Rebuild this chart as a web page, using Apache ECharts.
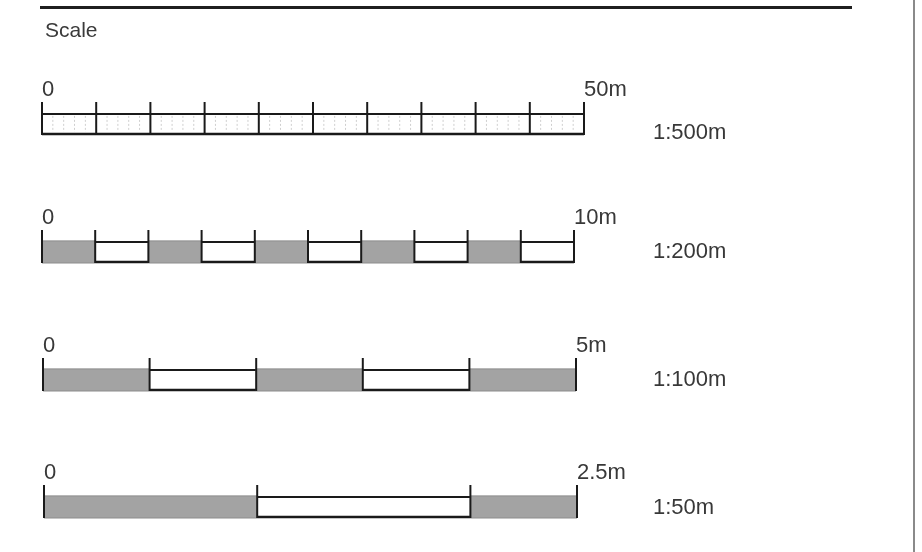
<!DOCTYPE html>
<html>
<head>
<meta charset="utf-8">
<script src="https://cdn.jsdelivr.net/npm/echarts@6/dist/echarts.min.js"></script>
<style>
html,body{margin:0;padding:0;background:#fff;}
#chart{width:922px;height:552px;}
</style>
</head>
<body>
<div id="chart"></div>
<script>
// ---- data ----
const titleText = 'Scale';
const scaleNames = ['1:500m', '1:200m', '1:100m', '1:50m'];
const scaleLengths = [50, 10, 5, 2.5];
const ticks500 = [0, 5, 10, 15, 20, 25, 30, 35, 40, 45, 50];
const ticks200 = [0, 1, 2, 3, 4, 5, 6, 7, 8, 9, 10];
const ticks100 = [0, 1, 2, 3, 4, 5];
const ticks50 = [0, 1, 2, 2.5];
const shade500 = [0, 0, 0, 0, 0, 0, 0, 0, 0, 0];
const shade200 = [1, 0, 1, 0, 1, 0, 1, 0, 1, 0];
const shade100 = [1, 0, 1, 0, 1];
const shade50 = [1, 0, 1];
const minorTicks500 = [1,2,3,4,6,7,8,9,11,12,13,14,16,17,18,19,21,22,23,24,26,27,28,29,31,32,33,34,36,37,38,39,41,42,43,44,46,47,48,49];

const allTicks = [ticks500, ticks200, ticks100, ticks50];
const allShades = [shade500, shade200, shade100, shade50];
const allMinor = [minorTicks500, [], [], []];

// ---- layout (positions/styles) ----
const rows = [
  {top: 102, left: 42, width: 542, labelLH: 28},
  {top: 230, left: 42, width: 532, labelLH: 10},
  {top: 358, left: 43, width: 533, labelLH: 10},
  {top: 485, left: 44, width: 533, labelLH: 12}
];
const rowHeight = 33;
const rightLabelX = 653;
const textColor = '#383838';
const fontFam = '"Liberation Sans", Arial, sans-serif';
const BAR_FRAC = 0.67;

function bandInfo(api, x, cat) {
  const p = api.coord([x, cat]);
  const band = api.size([0, 1])[1];
  const top = p[1] - band / 2;
  const bottom = p[1] + band / 2;
  const barTop = bottom - band * BAR_FRAC;
  return {x: p[0], top, bottom, barTop};
}

function renderSegment(params, api) {
  const a = bandInfo(api, api.value(0), api.value(3));
  const b = bandInfo(api, api.value(1), api.value(3));
  const shaded = api.value(2) === 1;
  const children = [];
  if (shaded) {
    children.push({type: 'rect', shape: {x: a.x, y: a.barTop, width: b.x - a.x, height: a.bottom - a.barTop},
      style: {fill: '#a3a3a3', stroke: '#8c8c8c', lineWidth: 1}});
  } else {
    children.push({type: 'rect', shape: {x: a.x, y: a.barTop, width: b.x - a.x, height: a.bottom - a.barTop},
      style: {fill: '#fff'}});
    children.push({type: 'line', shape: {x1: a.x, y1: a.barTop + 1, x2: b.x, y2: a.barTop + 1},
      style: {stroke: '#1a1a1a', lineWidth: 2}});
    children.push({type: 'line', shape: {x1: a.x, y1: a.bottom - 1, x2: b.x, y2: a.bottom - 1},
      style: {stroke: '#1a1a1a', lineWidth: 2.5}});
  }
  return {type: 'group', children};
}

function renderTick(params, api) {
  const a = bandInfo(api, api.value(0), api.value(1));
  return {type: 'line', shape: {x1: a.x, y1: a.top, x2: a.x, y2: a.bottom},
    style: {stroke: '#1a1a1a', lineWidth: 2}};
}

function renderMinor(params, api) {
  const a = bandInfo(api, api.value(0), api.value(1));
  return {type: 'line', shape: {x1: a.x, y1: a.barTop + 3, x2: a.x, y2: a.bottom - 3},
    style: {stroke: '#cfcfcf', lineWidth: 1, lineDash: [2, 2]}};
}

const grids = [], xAxes = [], yAxes = [], series = [];
rows.forEach((r, i) => {
  grids.push({left: r.left, width: r.width, top: r.top, height: rowHeight});
  xAxes.push({
    gridIndex: i, type: 'value', min: 0, max: scaleLengths[i], interval: scaleLengths[i],
    position: 'top',
    axisLine: {show: false}, axisTick: {show: false}, splitLine: {show: false},
    axisLabel: {
      show: true, margin: 1, align: 'left', fontSize: 22, color: textColor, fontFamily: fontFam,
      showMinLabel: true, showMaxLabel: true,
      formatter: v => (v === 0 ? '0' : v + 'm')
    }
  });
  yAxes.push({
    gridIndex: i, type: 'category', data: [scaleNames[i]], position: 'right',
    axisLine: {show: false}, axisTick: {show: false}, splitLine: {show: false},
    axisLabel: {
      margin: rightLabelX - (r.left + r.width), align: 'left', verticalAlign: 'top',
      lineHeight: r.labelLH, fontSize: 22, color: textColor, fontFamily: fontFam
    }
  });
  const t = allTicks[i], sh = allShades[i];
  const segData = [];
  for (let k = 0; k < sh.length; k++) segData.push([t[k], t[k + 1], sh[k], 0]);
  series.push({
    type: 'custom', xAxisIndex: i, yAxisIndex: i, clip: false, silent: true,
    renderItem: renderSegment, encode: {x: [0, 1], y: 3}, data: segData, z: 2
  });
  if (allMinor[i].length) {
    series.push({
      type: 'custom', xAxisIndex: i, yAxisIndex: i, clip: false, silent: true,
      renderItem: renderMinor, encode: {x: 0, y: 1}, data: allMinor[i].map(v => [v, 0]), z: 3
    });
  }
  series.push({
    type: 'custom', xAxisIndex: i, yAxisIndex: i, clip: false, silent: true,
    renderItem: renderTick, encode: {x: 0, y: 1}, data: t.map(v => [v, 0]), z: 4
  });
});

const chart = echarts.init(document.getElementById('chart'), null, {renderer: 'canvas'});
chart.setOption({
  backgroundColor: '#fff',
  animation: false,
  title: {
    text: titleText, left: 40, top: 16,
    textStyle: {fontSize: 21, fontWeight: 'normal', color: '#3a3a3a', fontFamily: fontFam}
  },
  graphic: [
    {type: 'line', shape: {x1: 40, y1: 7.5, x2: 852, y2: 7.5}, style: {stroke: '#1f1f1f', lineWidth: 3}},
    {type: 'line', shape: {x1: 914, y1: 0, x2: 914, y2: 552}, style: {stroke: '#8a8a8a', lineWidth: 2}}
  ],
  grid: grids,
  xAxis: xAxes,
  yAxis: yAxes,
  series: series
});
</script>
</body>
</html>
